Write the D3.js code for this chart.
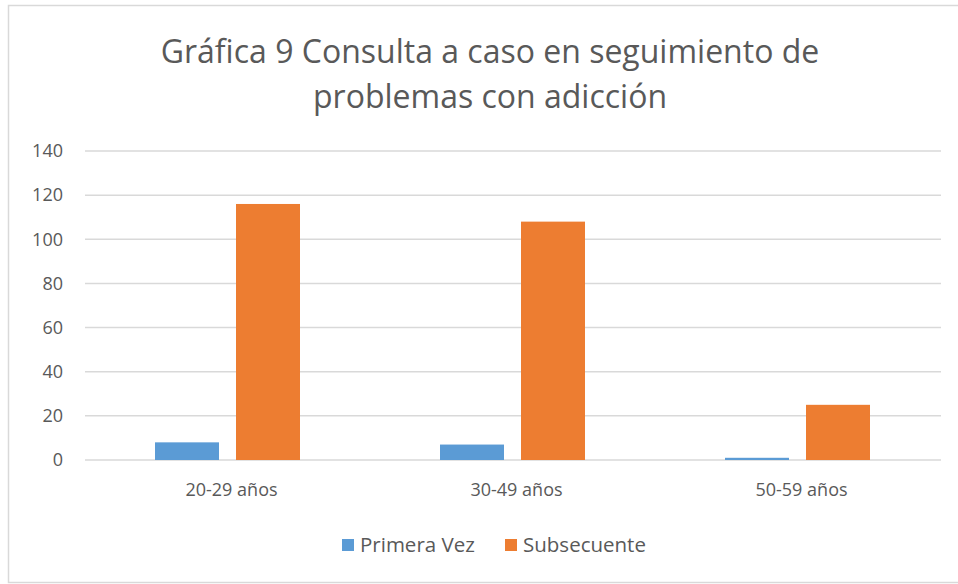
<!DOCTYPE html>
<html>
<head>
<meta charset="utf-8">
<script src="https://cdn.jsdelivr.net/npm/d3@7"></script>
<style>
  body { margin: 0; background: #fff; }
  text { font-family: "Open Sans", "Noto Sans", sans-serif; fill: #595959; }
</style>
</head>
<body>
<svg id="chart" width="958" height="584"></svg>
<script>
// data
const categories = ["20-29 años", "30-49 años", "50-59 años"]
const series = ["Primera Vez", "Subsecuente"]
const primeraVez = [8, 7, 1]
const subsecuente = [116, 108, 25]
const colors = ["#5b9bd5", "#ed7d31"]
const yTicks = [0, 20, 40, 60, 80, 100, 120, 140]

const svg = d3.select("#chart")

// outer frame (right side falls off the picture)
svg.append("rect")
  .attr("x", 8.5).attr("y", 5.5)
  .attr("width", 1000).attr("height", 577)
  .attr("fill", "none").attr("stroke", "#d9d9d9").attr("stroke-width", 1.5)

// title
const title = svg.append("text")
  .attr("text-anchor", "middle")
  .attr("font-size", 32)
title.append("tspan").attr("x", 490).attr("y", 63).text("Gráfica 9 Consulta a caso en seguimiento de")
title.append("tspan").attr("x", 490).attr("y", 108).text("problemas con adicción")

const x = d3.scaleBand().domain(categories).range([85, 940])
const xs = d3.scaleBand().domain(series).range([0, 145]).paddingInner(0.21)
const y = d3.scaleLinear().domain([0, 140]).range([460, 151])

// gridlines
svg.append("g").selectAll("line")
  .data(yTicks)
  .join("line")
  .attr("x1", 85).attr("x2", 941)
  .attr("y1", d => y(d)).attr("y2", d => y(d))
  .attr("stroke", "#d9d9d9").attr("stroke-width", 1.5)

// y axis labels
const yAxis = svg.append("g").attr("transform", "translate(63,0)")
  .call(d3.axisLeft(y).tickValues(yTicks).tickSize(0).tickPadding(0))
yAxis.select(".domain").remove()
yAxis.selectAll("text").attr("font-size", 18).style("font-family", "'Open Sans', sans-serif").attr("fill", "#595959")

// x axis labels
const xAxis = svg.append("g").attr("transform", "translate(4,460)")
  .call(d3.axisBottom(x).tickSize(0).tickPadding(23))
xAxis.select(".domain").remove()
xAxis.selectAll("text").attr("font-size", 18).style("font-family", "'Open Sans', sans-serif").attr("fill", "#595959")

// bars
const values = [primeraVez, subsecuente]
series.forEach((s, si) => {
  svg.append("g").selectAll("rect")
    .data(categories)
    .join("rect")
    .attr("x", (c) => x(c) + (x.bandwidth() - 145) / 2 + xs(s))
    .attr("y", (c, i) => y(values[si][i]))
    .attr("width", xs.bandwidth())
    .attr("height", (c, i) => 460 - y(values[si][i]))
    .attr("fill", colors[si])
})

// legend
const legendX = [342, 505]
const legend = svg.append("g")
series.forEach((s, i) => {
  legend.append("rect")
    .attr("x", legendX[i]).attr("y", 539)
    .attr("width", 12).attr("height", 12)
    .attr("fill", colors[i])
  legend.append("text")
    .attr("x", legendX[i] + 18).attr("y", 552)
    .attr("font-size", 20.5)
    .text(s)
})
</script>
</body>
</html>
